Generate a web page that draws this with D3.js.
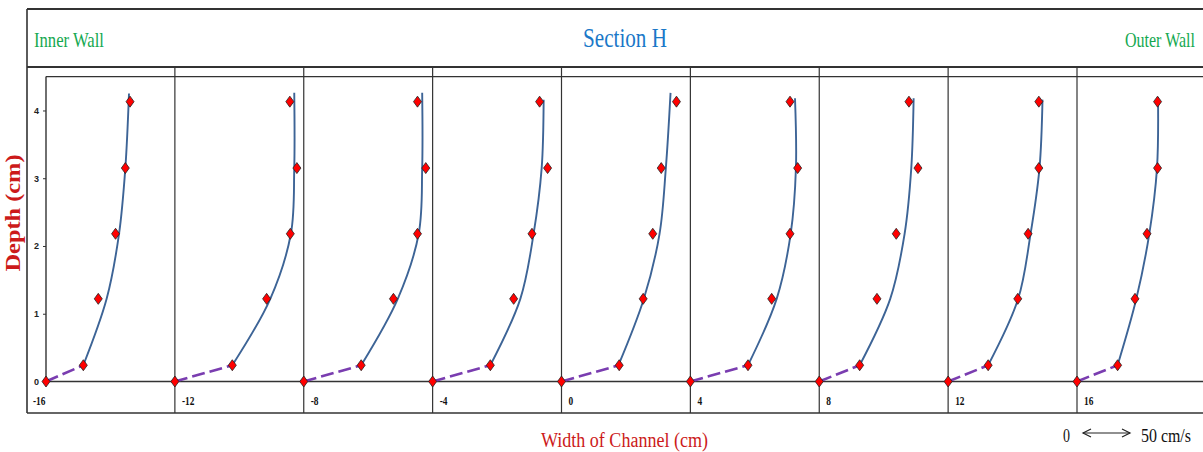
<!DOCTYPE html>
<html>
<head>
<meta charset="utf-8">
<script src="https://cdn.jsdelivr.net/npm/d3@7"></script>
<style>
  body { margin: 0; background: #fff; }
  svg { display: block; }
  text { font-family: "Liberation Serif", "Times New Roman", serif; }
</style>
</head>
<body>
<div class="chart"></div>
<script>
// section H, one velocity profile per channel position
var panels = [-16, -12, -8, -4, 0, 4, 8, 12, 16];
var panelLabels = ['-16', '-12', '-8', '-4', '0', '4', '8', '12', '16'];

// measured points: depth (cm) and velocity (cm/s), first point is the bed
var depths = [0, 0.24, 1.22, 2.18, 3.15, 4.13];
var velocity = [
  [0, 39.7, 55.6, 74.0, 84.4, 89.4],
  [0, 61.1, 97.6, 122.8, 129.8, 122.3],
  [0, 61.1, 95.4, 121.0, 129.8, 121.0],
  [0, 61.4, 86.2, 105.7, 122.3, 113.8],
  [0, 61.4, 86.9, 97.1, 106.1, 122.3],
  [0, 61.3, 86.5, 106.0, 114.1, 106.0],
  [0, 43.0, 61.4, 81.9, 105.0, 95.4],
  [0, 42.6, 74.1, 85.1, 96.5, 96.5],
  [0, 43.2, 61.7, 74.5, 85.7, 85.7]
];

// fitted profile
var fitDepths = [0.24, 1.22, 2.18, 3.15];
var fitTop = [4.25, 4.26, 4.26, 4.16, 4.26, 4.18, 4.18, 4.16, 4.2];
var fitVelocity = [
  [39.7, 64.5, 77.7, 84.4, 88.3],
  [61.1, 101.5, 123.4, 127.0, 127.0],
  [61.1, 100.0, 122.3, 126.0, 126.0],
  [61.4, 93.3, 107.4, 116.0, 118.1],
  [60.6, 87.6, 104.3, 111.0, 116.0],
  [61.3, 91.8, 106.7, 112.3, 111.3],
  [43.0, 75.5, 90.8, 97.9, 100.4],
  [42.6, 74.5, 87.7, 97.2, 100.4],
  [43.2, 63.1, 76.9, 85.1, 86.2]
];

var depthTicks = [0, 1, 2, 3, 4];
var scaleRef = 50; // cm/s shown by the arrow

var W = 1203, H = 452;
var svg = d3.select('.chart').append('svg').attr('width', W).attr('height', H);

var x = d3.scaleLinear().domain([-16, 16]).range([46, 1077]);
var y = d3.scaleLinear().domain([0, 4.5]).range([381.5, 76.6]);
var v = d3.scaleLinear().domain([0, 50]).range([0, 47]);

var frameTop = 9, headBottom = 67, frameBottom = 413, frameLeft = 27;
var line = '#333';

// frame and grid lines
var g = svg.append('g').attr('fill', 'none').attr('stroke', line);
g.append('line').attr('x1', frameLeft).attr('x2', W + 5).attr('y1', frameTop).attr('y2', frameTop).attr('stroke-width', 2);
g.append('line').attr('x1', frameLeft).attr('x2', W + 5).attr('y1', headBottom).attr('y2', headBottom).attr('stroke-width', 1.8);
g.append('line').attr('x1', frameLeft).attr('x2', W + 5).attr('y1', frameBottom).attr('y2', frameBottom).attr('stroke-width', 1.6);
g.append('line').attr('x1', frameLeft).attr('x2', frameLeft).attr('y1', frameTop).attr('y2', frameBottom).attr('stroke-width', 1.6);
g.append('line').attr('x1', x(-16)).attr('x2', W + 5).attr('y1', y(4.5)).attr('y2', y(4.5)).attr('stroke-width', 1.4);
g.append('line').attr('x1', x(-16)).attr('x2', W + 5).attr('y1', y(0)).attr('y2', y(0)).attr('stroke-width', 1.6);
g.append('line').attr('x1', x(-16)).attr('x2', x(-16)).attr('y1', y(4.5)).attr('y2', y(0)).attr('stroke-width', 1.4);
g.selectAll('.div').data(panels.slice(1)).enter().append('line')
  .attr('x1', function(d) { return x(d); }).attr('x2', function(d) { return x(d); })
  .attr('y1', headBottom).attr('y2', frameBottom).attr('stroke-width', 1.2);

// depth axis
var yAxis = svg.append('g').attr('transform', 'translate(' + x(-16) + ',0)')
  .call(d3.axisLeft(y).tickValues(depthTicks).tickFormat(d3.format('d'))
    .tickSize(3).tickPadding(4).tickSizeOuter(0));
yAxis.select('.domain').remove();
yAxis.selectAll('line').attr('stroke', line);
yAxis.selectAll('text').style('font-family', '"Liberation Sans", Arial, sans-serif')
  .style('font-size', '9px').style('font-weight', 'bold').attr('fill', '#222');

// panel position labels
svg.selectAll('.plab').data(panels).enter().append('text')
  .attr('transform', function(d, i) {
    var px = i === 0 ? x(d) - 13 : x(d) + 7;
    return 'translate(' + px + ',405) scale(0.72,1)';
  })
  .style('font-size', '13px').style('font-weight', 'bold').attr('fill', '#111')
  .text(function(d, i) { return panelLabels[i]; });

var diamond = 'M0,-5.5L4,0L0,5.5L-4,0Z';
var fitLine = d3.line().curve(d3.curveCatmullRom.alpha(0.5))
  .x(function(d) { return d[0]; }).y(function(d) { return d[1]; });

panels.forEach(function(p, i) {
  var x0 = x(p);
  var gp = svg.append('g');
  var fit = fitVelocity[i].map(function(u, k) {
    var dep = k < fitDepths.length ? fitDepths[k] : fitTop[i];
    return [x0 + v(u), y(dep)];
  });
  gp.append('path').attr('d', fitLine(fit)).attr('fill', 'none')
    .attr('stroke', '#3d6496').attr('stroke-width', 1.9);
  gp.append('line')
    .attr('x1', x0 + v(velocity[i][0])).attr('y1', y(depths[0]))
    .attr('x2', x0 + v(velocity[i][1])).attr('y2', y(depths[1]))
    .attr('stroke', '#7a3db0').attr('stroke-width', 2.6).attr('stroke-dasharray', '13,5');
  gp.selectAll('path.pt').data(velocity[i]).enter().append('path')
    .attr('class', 'pt').attr('d', diamond)
    .attr('transform', function(u, k) { return 'translate(' + (x0 + v(u)) + ',' + y(depths[k]) + ')'; })
    .attr('fill', '#ff0000').attr('stroke', '#222').attr('stroke-width', 0.8);
});

// header texts
svg.append('text').attr('x', 34).attr('y', 47).attr('textLength', 70).attr('lengthAdjust', 'spacingAndGlyphs')
  .style('font-size', '22px').attr('fill', '#14a850').text('Inner Wall');
svg.append('text').attr('x', 583).attr('y', 47).attr('textLength', 84).attr('lengthAdjust', 'spacingAndGlyphs')
  .style('font-size', '28px').attr('fill', '#1a78c8').text('Section H');
svg.append('text').attr('x', 1125).attr('y', 47).attr('textLength', 70).attr('lengthAdjust', 'spacingAndGlyphs')
  .style('font-size', '22px').attr('fill', '#14a850').text('Outer Wall');

// axis titles
svg.append('text').attr('transform', 'translate(20,213) rotate(-90)').attr('text-anchor', 'middle')
  .attr('textLength', 117).attr('lengthAdjust', 'spacingAndGlyphs')
  .style('font-size', '22px').style('font-weight', 'bold').attr('fill', '#cc1a1a').text('Depth (cm)');
svg.append('text').attr('x', 541).attr('y', 447).attr('textLength', 167).attr('lengthAdjust', 'spacingAndGlyphs')
  .style('font-size', '20px').attr('fill', '#cc1a1a').text('Width of Channel (cm)');

// velocity scale arrow
var ax0 = 1083, ay = 433;
svg.append('text').attr('x', 1063).attr('y', 442).attr('textLength', 7).attr('lengthAdjust', 'spacingAndGlyphs')
  .style('font-size', '19px').attr('fill', '#111').text('0');
var arr = svg.append('g').attr('fill', 'none').attr('stroke', '#222').attr('stroke-width', 1.2);
arr.append('line').attr('x1', ax0).attr('x2', ax0 + v(scaleRef)).attr('y1', ay).attr('y2', ay);
arr.append('path').attr('d', 'M' + (ax0 + 8) + ',' + (ay - 4) + 'L' + ax0 + ',' + ay + 'L' + (ax0 + 8) + ',' + (ay + 4));
arr.append('path').attr('d', 'M' + (ax0 + v(scaleRef) - 8) + ',' + (ay - 4) + 'L' + (ax0 + v(scaleRef)) + ',' + ay + 'L' + (ax0 + v(scaleRef) - 8) + ',' + (ay + 4));
svg.append('text').attr('x', 1141).attr('y', 442).attr('textLength', 50).attr('lengthAdjust', 'spacingAndGlyphs')
  .style('font-size', '19px').attr('fill', '#111').text(scaleRef + ' cm/s');
</script>
</body>
</html>
